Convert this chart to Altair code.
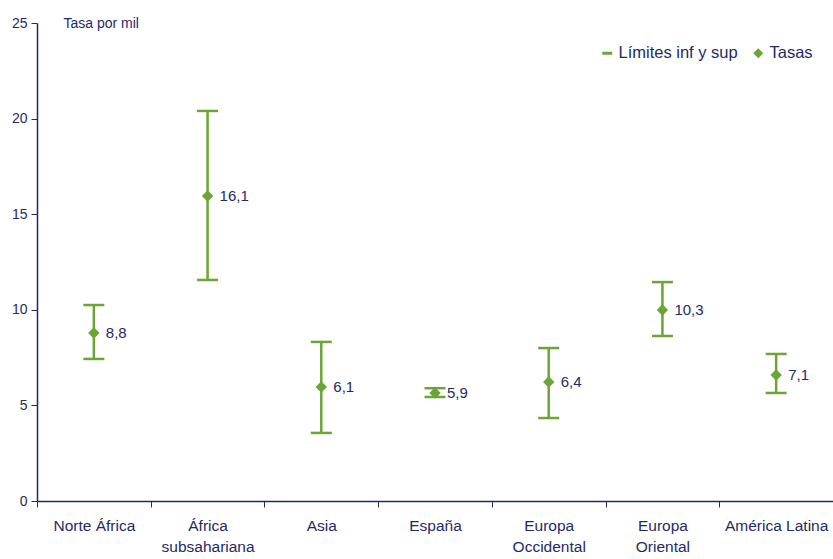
import altair as alt
import pandas as pd

categories = ["Norte África", "África\nsubsahariana", "Asia", "España",
              "Europa\nOccidental", "Europa\nOriental", "América Latina"]
upper = [10.25, 20.4, 8.32, 5.9, 8.0, 11.45, 7.69]
lower = [7.43, 11.56, 3.56, 5.44, 4.34, 8.63, 5.65]
point = [8.79, 15.95, 5.96, 5.65, 6.22, 9.99, 6.59]
labels = ["8,8", "16,1", "6,1", "5,9", "6,4", "10,3", "7,1"]

df = pd.DataFrame({"cat": categories, "upper": upper, "lower": lower,
                   "point": point, "label": labels, "series": "Tasas"})

GREEN = "#6aa535"
NAVY = "#1f2a66"
FONT = "Liberation Sans"

x = alt.X("cat:N", sort=categories,
          scale=alt.Scale(type="band", paddingInner=0, paddingOuter=0),
          axis=alt.Axis(title=None, labelAngle=0, tickBand="extent",
                        labelExpr="split(datum.label, '\\n')",
                        labelPadding=11, labelFontSize=15.5, labelLineHeight=21,
                        labelBaseline="top", tickSize=6, domainColor=NAVY,
                        tickColor=NAVY, labelColor=NAVY, labelFont=FONT,
                        domainWidth=1.5))
yscale = alt.Scale(domain=[0, 25], nice=False, zero=True)
yaxis = alt.Axis(values=[0, 5, 10, 15, 20, 25], grid=False, title="Tasa por mil",
                 titleAngle=0, titleAlign="left", titleBaseline="middle",
                 titleX=26, titleY=0, titleFontWeight="normal", titleFontSize=14,
                 titleColor=NAVY, titleFont=FONT, labelFontSize=14, labelColor=NAVY,
                 labelFont=FONT, tickSize=6, tickColor=NAVY, domainColor=NAVY,
                 domainWidth=1.5, labelPadding=4)

base = alt.Chart(df)

rules = base.mark_rule(color=GREEN, strokeWidth=2.5).encode(
    x=x, y=alt.Y("lower:Q", scale=yscale, axis=yaxis), y2="upper:Q")
cap_up = base.mark_tick(color=GREEN, thickness=2.5, size=21, opacity=1,
                        orient="horizontal").encode(
    x=x, y=alt.Y("upper:Q", scale=yscale))
cap_lo = base.mark_tick(color=GREEN, thickness=2.5, size=21, opacity=1,
                        orient="horizontal").encode(
    x=x, y=alt.Y("lower:Q", scale=yscale))
pts = base.mark_point(filled=True, size=130, opacity=1, color=GREEN).encode(
    x=x, y=alt.Y("point:Q", scale=yscale),
    shape=alt.Shape("series:N",
                    scale=alt.Scale(domain=["Límites inf y sup", "Tasas"],
                                    range=["M-1,-0.3H1V0.3H-1Z", "diamond"]),
                    legend=alt.Legend(title=None, orient="none", legendX=562, legendY=22,
                                      direction="horizontal", labelFontSize=16.5,
                                      labelColor=NAVY, labelFont=FONT,
                                      symbolFillColor=GREEN, symbolStrokeWidth=0,
                                      symbolSize=100, columnPadding=12, labelOffset=3,
                                      gridAlign="none")))
txt = base.mark_text(align="left", baseline="middle", dx=12, fontSize=15,
                     color=NAVY, font=FONT).encode(
    x=x, y=alt.Y("point:Q", scale=yscale), text="label:N")

chart = alt.layer(rules, cap_up, cap_lo, pts, txt).properties(
    width=796, height=478,
    autosize=alt.AutoSizeParams(type="none"),
    padding={"left": 37, "top": 23, "right": 0, "bottom": 58},
    background="white",
).configure_view(stroke=None)

chart.save("out.html", embed_options={"renderer": "svg", "actions": False})
